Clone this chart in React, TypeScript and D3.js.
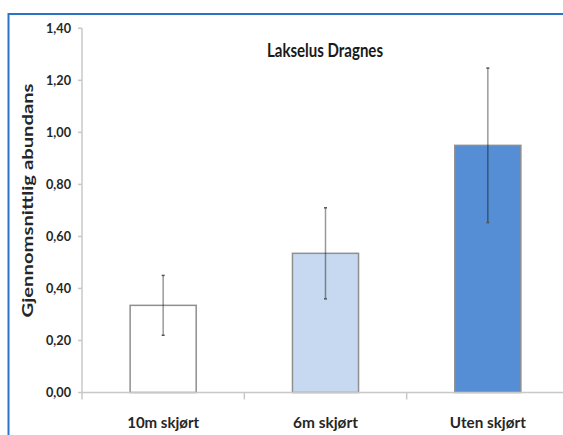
import React from "react";
import * as d3 from "d3";

const categories = ["10m skjørt", "6m skjørt", "Uten skjørt"];
const means = [0.335, 0.535, 0.95];
const errors = [0.115, 0.175, 0.297];
const barFills = ["#ffffff", "#c6d9f0", "#558ed5"];
const yTicks = [0, 0.2, 0.4, 0.6, 0.8, 1.0, 1.2, 1.4];
const title = "Lakselus Dragnes";
const yLabel = "Gjennomsnittlig abundans";
const xLabelWidths = [72, 65, 76];

const W = 563;
const H = 435;
const font = "Lato, 'Open Sans', sans-serif";

export default function App() {
  const y = d3.scaleLinear().domain([0, 1.4]).range([392.5, 28.3]);
  const x = d3
    .scaleBand<string>()
    .domain(categories)
    .range([82, 569])
    .paddingInner(0.593)
    .paddingOuter(0.2965);
  const step = x.step();
  const x0 = 82;
  const fmt = (v: number) => v.toFixed(2).replace(".", ",");
  const bw = x.bandwidth();

  return (
    <svg
      width={W}
      height={H}
      style={{ position: "absolute", left: 0, top: 0, background: "#fff" }}
    >
      {/* blue frame */}
      <line x1={8.5} y1={14} x2={W} y2={14} stroke="#2a74c6" strokeWidth={2} />
      <line x1={8.5} y1={13} x2={8.5} y2={H} stroke="#2a74c6" strokeWidth={2} />

      {/* title */}
      <text
        x={325}
        y={57}
        textAnchor="middle"
        fontFamily={font}
        fontWeight="bold"
        fontSize={19}
        fill="#1a1a1a"
        textLength={116}
        lengthAdjust="spacingAndGlyphs"
      >
        {title}
      </text>

      {/* y axis */}
      <line x1={82} y1={y(1.4)} x2={82} y2={y(0)} stroke="#c8c8c8" strokeWidth={1.5} />
      {yTicks.map((t) => (
        <g key={t}>
          <line x1={78} x2={82} y1={y(t)} y2={y(t)} stroke="#c8c8c8" strokeWidth={1.5} />
          <text
            x={71}
            y={y(t)}
            dy="0.35em"
            textAnchor="end"
            fontFamily={font}
            fontWeight="bold"
            fontSize={12.5}
            fill="#262626"
            textLength={25}
            lengthAdjust="spacingAndGlyphs"
          >
            {fmt(t)}
          </text>
        </g>
      ))}

      {/* y label */}
      <text
        transform={`translate(32.5,${(83 + 318) / 2}) rotate(-90)`}
        textAnchor="middle"
        fontFamily={font}
        fontWeight="bold"
        fontSize={15}
        fill="#262626"
        textLength={234}
        lengthAdjust="spacingAndGlyphs"
      >
        {yLabel}
      </text>

      {/* bars */}
      {categories.map((c, i) => (
        <rect
          key={c}
          x={x(c)!}
          y={y(means[i])}
          width={bw}
          height={y(0) - y(means[i])}
          fill={barFills[i]}
          stroke="#8f8f8f"
          strokeWidth={1.5}
        />
      ))}

      {/* x axis */}
      <line x1={82} y1={y(0)} x2={W} y2={y(0)} stroke="#c8c8c8" strokeWidth={1.5} />
      {[0, 1, 2, 3].map((k) => (
        <line
          key={k}
          x1={x0 + k * step}
          x2={x0 + k * step}
          y1={y(0)}
          y2={y(0) + 7}
          stroke="#c8c8c8"
          strokeWidth={1.5}
        />
      ))}
      {categories.map((c, i) => (
        <text
          key={c}
          x={x(c)! + bw / 2}
          y={428}
          textAnchor="middle"
          fontFamily={font}
          fontWeight="bold"
          fontSize={15}
          fill="#262626"
          textLength={xLabelWidths[i]}
          lengthAdjust="spacingAndGlyphs"
        >
          {c}
        </text>
      ))}

      {/* error bars */}
      {categories.map((c, i) => {
        const cx = x(c)! + bw / 2;
        const yt = y(means[i] + errors[i]);
        const yb = y(means[i] - errors[i]);
        return (
          <g key={c}>
            <line x1={cx} x2={cx} y1={yt} y2={yb} stroke="rgba(0,0,0,0.4)" strokeWidth={1.5} />
            <line x1={cx - 1.5} x2={cx + 1.5} y1={yt} y2={yt} stroke="#555" strokeWidth={1.5} />
            <line x1={cx - 1.5} x2={cx + 1.5} y1={yb} y2={yb} stroke="#555" strokeWidth={1.5} />
          </g>
        );
      })}
    </svg>
  );
}
